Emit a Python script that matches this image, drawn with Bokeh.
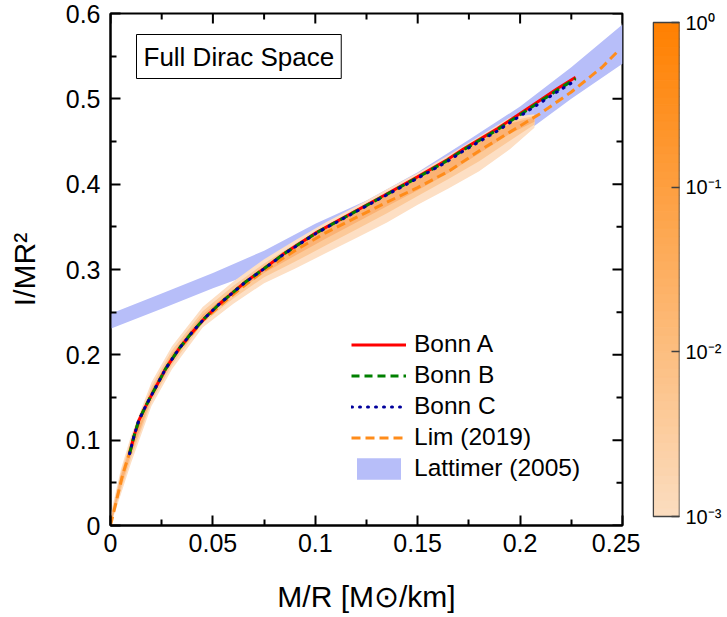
import numpy as np
from bokeh.plotting import figure
from bokeh.models import Range1d, FixedTicker, CustomJSTickFormatter, Legend, LegendItem, Label
from bokeh.layouts import row
from bokeh.embed import file_html
from bokeh.resources import INLINE

FONT = "Liberation Sans"

# ---------------- data ----------------
x_ticks = [0, 0.05, 0.1, 0.15, 0.2, 0.25]
x_minor = [0.025, 0.075, 0.125, 0.175, 0.225]
y_ticks = [0, 0.1, 0.2, 0.3, 0.4, 0.5, 0.6]
y_minor = [0.05, 0.15, 0.25, 0.35, 0.45, 0.55]

bonn_x = [0.0093, 0.0115, 0.0138, 0.017, 0.0203, 0.0269, 0.0334, 0.0399, 0.0464,
          0.0529, 0.0594, 0.0659, 0.0749, 0.0846, 0.1009, 0.1172, 0.1335, 0.1497,
          0.1644, 0.1725, 0.1888, 0.1986, 0.2083, 0.2181, 0.2271]
bonnA_y = [0.084, 0.105, 0.123, 0.139, 0.154, 0.1836, 0.207, 0.2266, 0.244,
           0.259, 0.2723, 0.2855, 0.301, 0.3184, 0.3438, 0.3652, 0.3867, 0.4082,
           0.4285, 0.4414, 0.4648, 0.4805, 0.496, 0.5117, 0.5254]
bonnB_y = [0.084, 0.105, 0.123, 0.139, 0.154, 0.1836, 0.207, 0.2266, 0.244,
           0.259, 0.2723, 0.2853, 0.3008, 0.3182, 0.3435, 0.3648, 0.3862, 0.4075,
           0.4276, 0.4404, 0.4636, 0.4792, 0.4945, 0.5101, 0.5237]
bonnC_y = [0.084, 0.105, 0.123, 0.139, 0.154, 0.1836, 0.207, 0.2266, 0.244,
           0.259, 0.2723, 0.2852, 0.3006, 0.3179, 0.3431, 0.3643, 0.3856, 0.4066,
           0.4265, 0.4392, 0.4622, 0.4777, 0.4928, 0.5082, 0.5216]

lim_x = [0.0, 0.003, 0.006, 0.009, 0.012, 0.016, 0.02, 0.03, 0.045, 0.06, 0.075,
         0.09, 0.105, 0.12, 0.135, 0.15, 0.165, 0.18, 0.195, 0.21, 0.225, 0.24, 0.247]
lim_y = [0.0, 0.030, 0.060, 0.083, 0.108, 0.135, 0.153, 0.196, 0.240, 0.271, 0.299,
         0.322, 0.343, 0.361, 0.379, 0.396, 0.415, 0.439, 0.461, 0.483, 0.508, 0.537, 0.554]

lat_x = [0.0, 0.025, 0.05, 0.075, 0.1, 0.125, 0.15, 0.175, 0.2, 0.225, 0.25]
lat_lo = [0.2305, 0.254, 0.278, 0.300, 0.326, 0.354, 0.384, 0.418, 0.456, 0.500, 0.541]
lat_hi = [0.248, 0.272, 0.296, 0.322, 0.3535, 0.381, 0.414, 0.452, 0.491, 0.537, 0.587]

band_x = [0.0, 0.005, 0.01, 0.02, 0.03, 0.045, 0.06, 0.075, 0.09, 0.105, 0.12,
          0.135, 0.15, 0.165, 0.18, 0.195, 0.207]
outer_hi = [0.012, 0.065, 0.105, 0.168, 0.210, 0.256, 0.286, 0.312, 0.334, 0.355,
            0.374, 0.394, 0.413, 0.434, 0.456, 0.478, 0.482]
outer_lo = [0.0, 0.036, 0.073, 0.140, 0.183, 0.232, 0.260, 0.284, 0.301, 0.319,
            0.337, 0.355, 0.376, 0.395, 0.415, 0.441, 0.466]
mid_hi = [0.008, 0.061, 0.100, 0.163, 0.205, 0.251, 0.281, 0.307, 0.330, 0.351,
          0.370, 0.390, 0.409, 0.430, 0.452, 0.474, 0.480]
mid_lo = [0.0, 0.041, 0.079, 0.145, 0.188, 0.237, 0.266, 0.291, 0.309, 0.328,
          0.347, 0.366, 0.386, 0.406, 0.427, 0.451, 0.470]
inner_hi = [0.005, 0.057, 0.095, 0.159, 0.201, 0.247, 0.277, 0.304, 0.327, 0.348,
            0.367, 0.387, 0.406, 0.427, 0.449, 0.471, 0.478]
inner_lo = [0.0, 0.046, 0.084, 0.149, 0.192, 0.241, 0.271, 0.296, 0.316, 0.336,
            0.355, 0.374, 0.393, 0.413, 0.436, 0.459, 0.473]

cb_ticks = [0.001, 0.01, 0.1, 1.0]
cb_low, cb_high = 1e-3, 1.0

# ---------------- layout geometry (pixels) ----------------
W_MAIN, H = 640, 617
B_LEFT, B_RIGHT, B_TOP, B_BOTTOM = 110, 18, 13, 92
FRAME_W = W_MAIN - B_LEFT - B_RIGHT
FRAME_H = H - B_TOP - B_BOTTOM
MAJ_LEN, MIN_LEN = 10, 6

# ---------------- main figure ----------------
p = figure(width=W_MAIN, height=H, x_range=Range1d(0, 0.25), y_range=Range1d(0, 0.6),
           toolbar_location=None, output_backend="svg",
           min_border_left=B_LEFT, min_border_right=B_RIGHT,
           min_border_top=B_TOP, min_border_bottom=B_BOTTOM)
p.grid.visible = False
p.outline_line_color = "black"
p.outline_line_width = 2

fmt = CustomJSTickFormatter(code="return parseFloat(tick.toFixed(4)).toString();")


def style_axis(ax, ticks, minor):
    ax.ticker = FixedTicker(ticks=ticks, minor_ticks=minor)
    ax.formatter = fmt
    ax.axis_line_color = "black"
    ax.axis_line_width = 2
    ax.major_tick_in = MAJ_LEN
    ax.major_tick_out = 0
    ax.minor_tick_in = MIN_LEN
    ax.minor_tick_out = 0
    ax.major_tick_line_width = 2
    ax.minor_tick_line_width = 2
    ax.major_tick_line_color = "black"
    ax.minor_tick_line_color = "black"
    ax.major_label_text_font = FONT
    ax.major_label_text_color = "black"
    ax.major_label_text_font_size = "25px"
    ax.axis_label_text_font = FONT
    ax.axis_label_text_font_size = "30px"
    ax.axis_label_text_font_style = "normal"
    ax.axis_label_text_color = "black"


xax = p.below[0]
yax = p.left[0]
style_axis(xax, x_ticks, x_minor)
style_axis(yax, y_ticks, y_minor)
xax.major_label_standoff = 8
yax.major_label_standoff = 10
xax.axis_label = "M/R [M⊙/km]"
xax.axis_label_standoff = 25
yax.axis_label = "I/MR²"
yax.axis_label_standoff = 22

# mirrored ticks on the top and right frame edges (from the tick lists)
dy_maj = MAJ_LEN * 0.6 / FRAME_H
dy_min = MIN_LEN * 0.6 / FRAME_H
dx_maj = MAJ_LEN * 0.25 / FRAME_W
dx_min = MIN_LEN * 0.25 / FRAME_W
p.segment(x0=x_ticks, x1=x_ticks, y0=[0.6] * len(x_ticks), y1=[0.6 - dy_maj] * len(x_ticks),
          line_color="black", line_width=2)
p.segment(x0=x_minor, x1=x_minor, y0=[0.6] * len(x_minor), y1=[0.6 - dy_min] * len(x_minor),
          line_color="black", line_width=2)
p.segment(y0=y_ticks, y1=y_ticks, x0=[0.25] * len(y_ticks), x1=[0.25 - dx_maj] * len(y_ticks),
          line_color="black", line_width=2)
p.segment(y0=y_minor, y1=y_minor, x0=[0.25] * len(y_minor), x1=[0.25 - dx_min] * len(y_minor),
          line_color="black", line_width=2)

LAT_COLOR = "#B7BEF9"
lat_r = p.varea(x=lat_x, y1=lat_lo, y2=lat_hi, fill_color=LAT_COLOR, fill_alpha=1.0)
for (lo, hi), col in zip([(outer_lo, outer_hi), (mid_lo, mid_hi), (inner_lo, inner_hi)],
                         ["#FDDFC4", "#FCC999", "#FBB274"]):
    p.varea(x=band_x, y1=lo, y2=hi, fill_color=col, fill_alpha=1.0)

lim_r = p.line(lim_x, lim_y, line_color="#FF8C1A", line_width=3, line_dash="9 5")
a_r = p.line(bonn_x, bonnA_y, line_color="#FF0000", line_width=3)
b_r = p.line(bonn_x, bonnB_y, line_color="#008000", line_width=3, line_dash="8 5")
c_r = p.line(bonn_x, bonnC_y, line_color="#00009C", line_width=3, line_dash="1 7",
             line_cap="round")

legend = Legend(items=[
    LegendItem(label="Bonn A", renderers=[a_r]),
    LegendItem(label="Bonn B", renderers=[b_r]),
    LegendItem(label="Bonn C", renderers=[c_r]),
    LegendItem(label="Lim (2019)", renderers=[lim_r]),
    LegendItem(label="Lattimer (2005)", renderers=[lat_r]),
], location=(241, 43), glyph_width=55, glyph_height=27, label_height=27, spacing=3,
    padding=0, margin=0, label_standoff=8, border_line_alpha=0, background_fill_alpha=0,
    label_text_font=FONT, label_text_font_size="24.5px", label_text_color="black")
p.add_layout(legend)

box = Label(x=26, y=491, x_units="screen", y_units="screen", text="Full Dirac Space",
            text_font=FONT, text_font_size="26px", text_color="black",
            text_align="left", text_baseline="top",
            border_line_color="black", border_line_width=1, background_fill_color="white",
            padding=7)
p.add_layout(box)

# ---------------- colour bar figure ----------------
CB_PAD = 9  # px between frame edge and bar ends
decades = np.log10(cb_high) - np.log10(cb_low)
ext = decades * CB_PAD / (FRAME_H - 2 * CB_PAD)
c_lo = np.array([251, 221, 192], dtype=float)
c_hi = np.array([255, 128, 0], dtype=float)
n_steps = 60
levels = np.logspace(np.log10(cb_low), np.log10(cb_high), n_steps + 1)
palette = []
for i in range(n_steps):
    t = (i + 0.5) / n_steps
    c = (1 - t) * c_lo + t * c_hi
    palette.append("#%02x%02x%02x" % tuple(int(round(v)) for v in c))

p2 = figure(width=727 - W_MAIN, height=H, x_range=Range1d(-0.03, 1.0),
            y_range=Range1d(10 ** (np.log10(cb_low) - ext), 10 ** (np.log10(cb_high) + ext)),
            y_axis_type="log", y_axis_location="right", toolbar_location=None,
            output_backend="svg", min_border_left=12, min_border_right=48,
            min_border_top=B_TOP, min_border_bottom=B_BOTTOM)
p2.xaxis.visible = False
p2.grid.visible = False
p2.outline_line_color = None
p2.quad(left=0, right=1, bottom=levels[:-1], top=levels[1:], fill_color=palette,
        line_color=palette, line_width=1)
p2.quad(left=0, right=1, bottom=cb_low, top=cb_high, fill_color=None,
        line_color="#404040", line_width=1.5)
cax = p2.yaxis[0]
cax.ticker = FixedTicker(ticks=cb_ticks, minor_ticks=[])
cax.formatter = CustomJSTickFormatter(code="""
const e = Math.round(Math.log10(tick));
const m = {"-": "\u207B", "0": "\u2070", "1": "\u00B9", "2": "\u00B2", "3": "\u00B3"};
return "10" + String(e).split("").map(c => m[c]).join("");
""")
cax.axis_line_color = None
cax.major_tick_in = 8
cax.major_tick_out = 0
cax.major_tick_line_color = "#404040"
cax.major_tick_line_width = 1.5
cax.minor_tick_line_color = None
cax.major_label_standoff = 6
cax.major_label_text_font = FONT
cax.major_label_text_font_size = "20px"
cax.major_label_text_color = "black"

layout = row(p, p2)
open("out.html", "w", encoding="utf-8").write(file_html(layout, INLINE))
